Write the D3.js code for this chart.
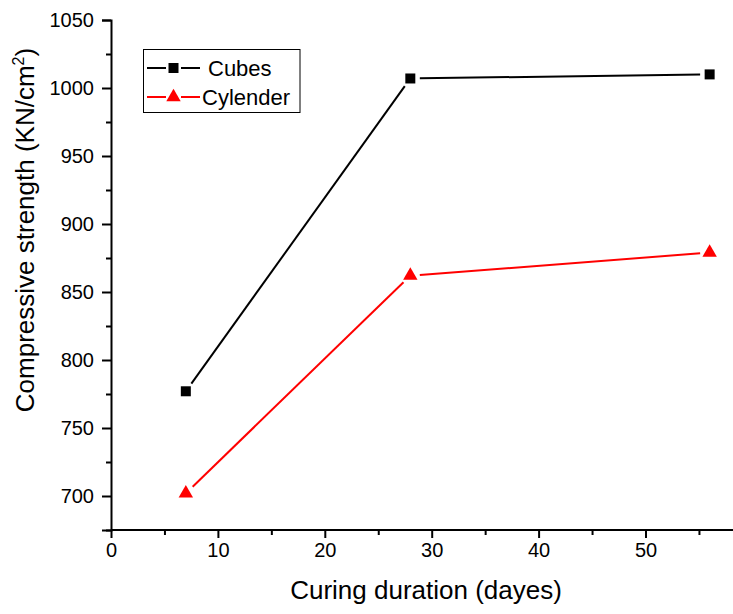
<!DOCTYPE html>
<html>
<head>
<meta charset="utf-8">
<script src="https://cdn.jsdelivr.net/npm/d3@7/dist/d3.min.js"></script>
<style>
  html, body { margin: 0; padding: 0; background: #fff; }
  svg { display: block; font-family: Arial, "Liberation Sans", sans-serif; }
</style>
</head>
<body>
<svg id="chart" width="733" height="614"></svg>
<script>
// Curing duration (days) and measured compressive strengths
const days = [7, 28, 56];
const cubes = [777, 1007, 1010];
const cylender = [702, 862, 879];
const seriesNames = ["Cubes", "Cylender"];
const seriesColors = ["#000000", "#ff0000"];
const xMajorTicks = [0, 10, 20, 30, 40, 50];
const xMinorTicks = [5, 15, 25, 35, 45, 55];
const yMajorTicks = [700, 750, 800, 850, 900, 950, 1000, 1050];
const yMinorTicks = [675, 725, 775, 825, 875, 925, 975, 1025];

const svg = d3.select("#chart");
const W = 733, H = 614;

const x = d3.scaleLinear().domain([0, 60]).range([111, 111 + 60 * 10.69]);
const y = d3.scaleLinear().domain([675, 1050]).range([530, 20]);

svg.append("clipPath").attr("id", "clip")
  .append("rect").attr("x", 0).attr("y", 0).attr("width", W).attr("height", H);

const g = svg.append("g").attr("clip-path", "url(#clip)");

// Axes: major ticks with labels, minor ticks without
const xAxis = g.append("g").attr("transform", `translate(0,${y(675)})`)
  .call(d3.axisBottom(x).tickValues(xMajorTicks).tickSize(8).tickPadding(5).tickFormat(d3.format("d")));
g.append("g").attr("transform", `translate(0,${y(675)})`)
  .call(d3.axisBottom(x).tickValues(xMinorTicks).tickSize(5).tickFormat(""))
  .select(".domain").remove();

const yAxis = g.append("g").attr("transform", `translate(${x(0)},0)`)
  .call(d3.axisLeft(y).tickValues(yMajorTicks).tickSize(9).tickPadding(8).tickFormat(d3.format("d")));
g.append("g").attr("transform", `translate(${x(0)},0)`)
  .call(d3.axisLeft(y).tickValues(yMinorTicks).tickSize(5).tickFormat(""))
  .select(".domain").remove();

g.selectAll(".domain").attr("stroke", "#000").attr("stroke-width", 2);
g.selectAll(".tick line").attr("stroke", "#000").attr("stroke-width", 2);
g.selectAll(".tick text").attr("fill", "#000").attr("font-size", 20)
  .attr("font-family", "Arial, 'Liberation Sans', sans-serif");
// the x axis runs on past the right edge of the page
xAxis.selectAll(".domain").attr("d", `M${x(0)},0H${W + 40}`);

// Axis titles
svg.append("text")
  .attr("x", 426).attr("y", 599)
  .attr("text-anchor", "middle")
  .attr("font-size", 26)
  .text("Curing duration (dayes)");

const yTitle = svg.append("text")
  .attr("transform", "translate(34,230) rotate(-90)")
  .attr("text-anchor", "middle")
  .attr("font-size", 26);
yTitle.append("tspan").text("Compressive strength (KN/cm");
yTitle.append("tspan").attr("font-size", 16).attr("dy", -10).text("2");
yTitle.append("tspan").attr("dy", 10).text(")");

// Line segments stop short of each marker
const gap = 9.5;
function segments(vals) {
  const pts = days.map((d, i) => [x(d), y(vals[i])]);
  const segs = [];
  for (let i = 0; i < pts.length - 1; i++) {
    const [x1, y1] = pts[i], [x2, y2] = pts[i + 1];
    const len = Math.hypot(x2 - x1, y2 - y1);
    const ux = (x2 - x1) / len, uy = (y2 - y1) / len;
    segs.push([x1 + ux * gap, y1 + uy * gap, x2 - ux * gap, y2 - uy * gap]);
  }
  return segs;
}

const series = [
  { name: seriesNames[0], values: cubes, color: seriesColors[0], symbol: d3.symbolSquare, size: 100 },
  { name: seriesNames[1], values: cylender, color: seriesColors[1], symbol: d3.symbolTriangle, size: 90 }
];

series.forEach(s => {
  g.selectAll(null).data(segments(s.values)).enter().append("line")
    .attr("x1", d => d[0]).attr("y1", d => d[1])
    .attr("x2", d => d[2]).attr("y2", d => d[3])
    .attr("stroke", s.color).attr("stroke-width", 2);
  g.selectAll(null).data(days.map((d, i) => [d, s.values[i]])).enter().append("path")
    .attr("d", d3.symbol().type(s.symbol).size(s.size))
    .attr("transform", d => `translate(${x(d[0])},${y(d[1])})`)
    .attr("fill", s.color);
});

// Legend
const legend = svg.append("g");
legend.append("rect")
  .attr("x", 143.5).attr("y", 49.5).attr("width", 156.5).attr("height", 63)
  .attr("fill", "#fff").attr("stroke", "#000").attr("stroke-width", 1);
const rowsY = [68, 97];
const textX = [208, 202];
series.forEach((s, i) => {
  const ly = rowsY[i];
  legend.append("line").attr("x1", 147).attr("x2", 166).attr("y1", ly).attr("y2", ly)
    .attr("stroke", s.color).attr("stroke-width", 2);
  legend.append("line").attr("x1", 181).attr("x2", 200).attr("y1", ly).attr("y2", ly)
    .attr("stroke", s.color).attr("stroke-width", 2);
  legend.append("path")
    .attr("d", d3.symbol().type(s.symbol).size(s.size))
    .attr("transform", `translate(173.5,${ly})`)
    .attr("fill", s.color);
  legend.append("text")
    .attr("x", textX[i]).attr("y", ly + 8)
    .attr("font-size", 22)
    .text(s.name);
});
</script>
</body>
</html>
